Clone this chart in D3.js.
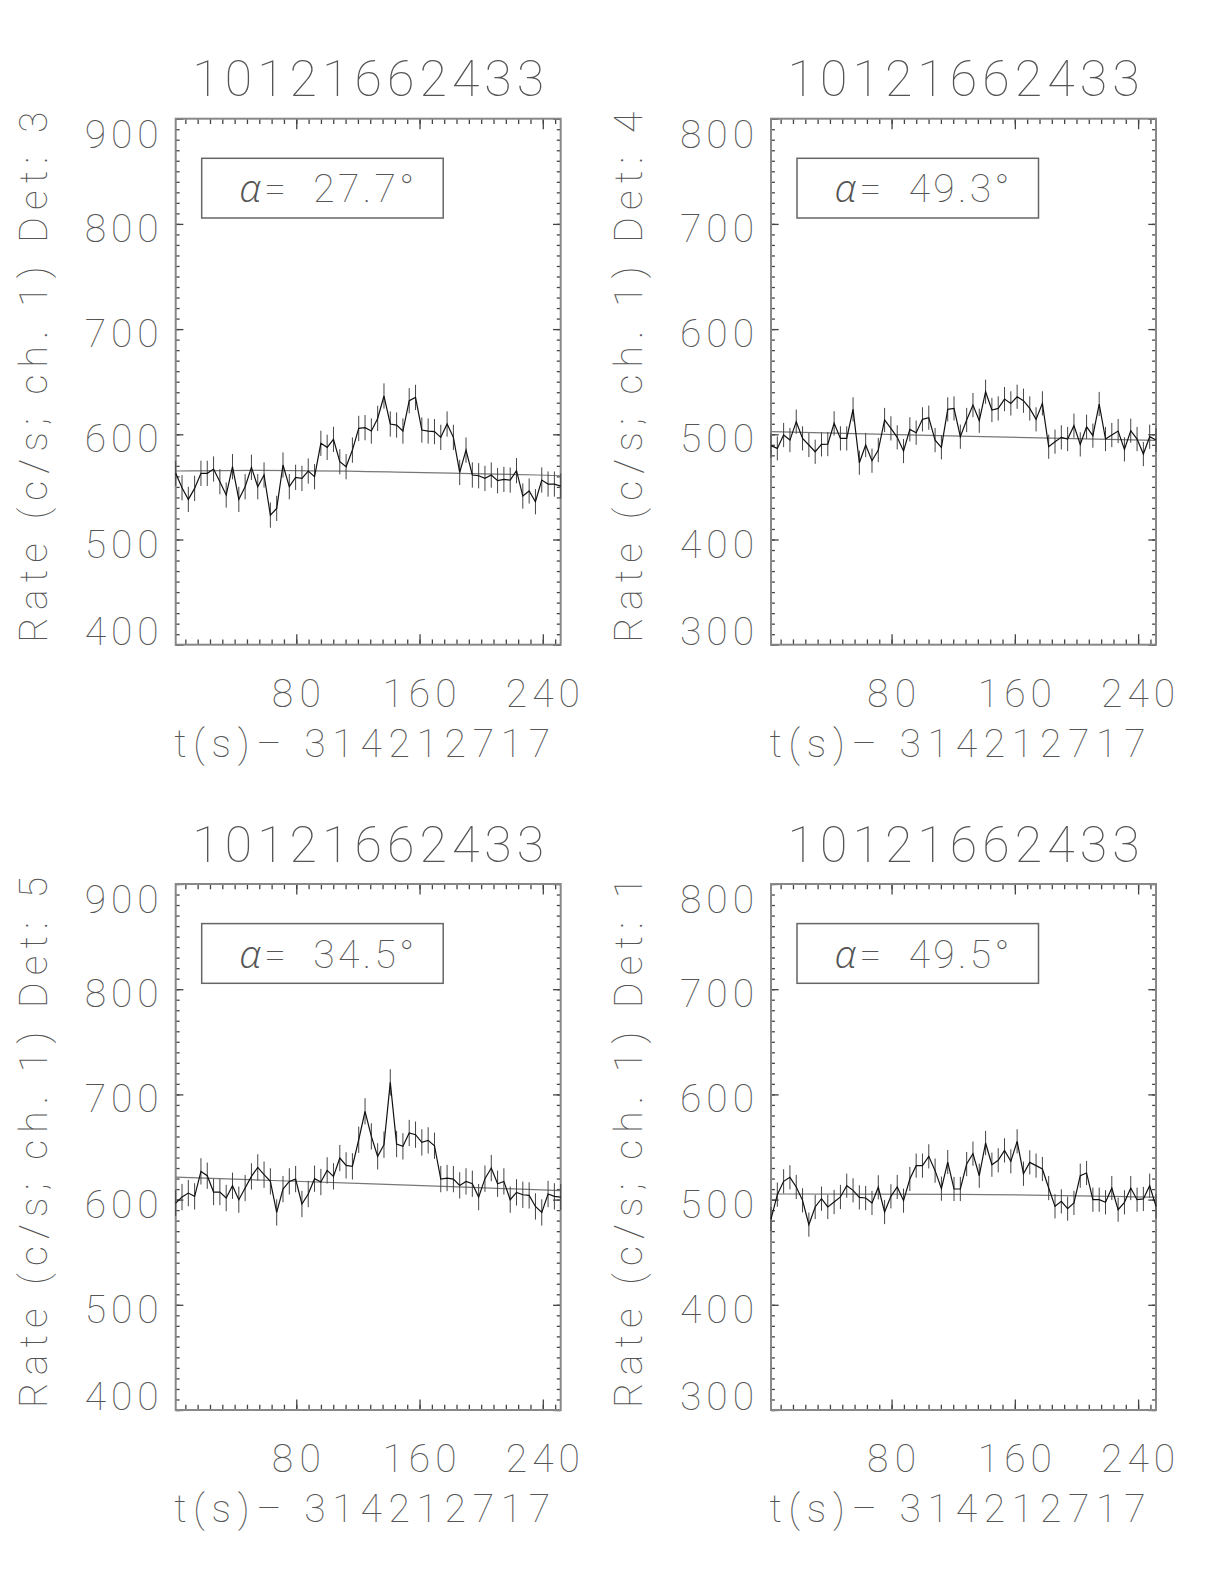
<!DOCTYPE html>
<html><head><meta charset="utf-8">
<script src="https://cdn.jsdelivr.net/npm/d3@7"></script>
<style>body{margin:0;background:#fff}</style>
</head><body><div id="chart"></div>
<script>
// ---- data ----
const times = [1.75,5.85,9.94,14.04,18.13,22.23,26.33,30.42,34.52,38.61,42.71,46.81,50.90,55.00,59.09,63.19,67.29,71.38,75.48,79.57,83.67,87.77,91.86,95.96,100.05,104.15,108.25,112.34,116.44,120.53,124.63,128.73,132.82,136.92,141.01,145.11,149.21,153.30,157.40,161.49,165.59,169.69,173.78,177.88,181.97,186.07,190.17,194.26,198.36,202.45,206.55,210.65,214.74,218.84,222.93,227.03,231.13,235.22,239.32,243.41,247.51,251.61];
const rateDet3 = [562.9,549.2,538.1,548.6,562.9,562.9,567.0,554.9,542.3,569.2,538.1,550.2,568.6,550.2,561.3,523.2,529.6,570.8,550.2,559.1,558.1,565.1,559.7,591.4,587.6,595.2,573.9,569.2,585.0,605.6,606.3,603.1,615.1,636.4,609.8,608.8,603.1,631.9,635.1,604.1,603.1,602.5,597.1,609.8,597.1,563.8,585.0,561.3,560.6,558.1,561.3,555.9,557.1,556.5,565.4,541.3,546.1,535.9,556.5,552.7,552.7,550.8];
const rateDet4 = [489.2,486.6,499.3,494.5,512.0,496.1,489.8,483.4,490.4,490.7,510.4,496.1,496.1,523.7,473.0,489.8,474.9,485.0,513.6,505.6,497.1,484.1,504.7,501.5,514.2,515.8,494.5,487.6,523.7,524.6,497.7,513.6,527.8,512.9,540.5,523.1,524.6,533.5,529.4,535.7,531.9,524.6,514.2,529.4,488.2,493.0,497.1,495.5,508.2,490.4,507.2,498.7,528.8,495.5,499.3,503.1,485.7,503.4,495.5,481.2,497.7,494.5];
const rateDet5 = [596.7,602.4,606.2,603.1,626.8,622.7,607.2,607.2,601.5,613.2,599.9,611.0,622.1,630.6,623.7,617.3,587.8,610.0,617.3,619.5,595.8,605.3,619.9,616.7,627.8,622.1,639.5,632.5,631.6,656.9,683.9,660.1,641.1,652.2,711.4,652.8,650.6,663.3,661.7,654.4,656.3,651.2,619.5,620.5,619.5,613.5,617.3,615.1,602.4,619.9,630.0,615.1,617.3,599.9,606.9,604.6,604.0,593.5,587.8,605.3,603.1,602.4];
const rateDet1 = [481.5,504.7,517.4,521.2,512.0,499.3,476.2,493.0,500.9,493.0,497.7,502.5,513.2,508.8,502.1,501.5,496.8,511.7,488.2,503.1,512.0,499.0,519.6,532.3,532.3,541.1,527.5,510.4,535.7,510.1,510.1,533.8,543.7,522.7,553.8,533.2,537.3,546.8,536.4,555.4,524.6,535.4,532.3,529.1,511.0,493.6,498.3,491.4,496.8,522.7,525.3,499.9,499.9,497.4,511.0,490.4,497.4,511.0,499.9,500.6,513.2,493.6];
const errHalf = [12.0, 11.5, 12.5, 11.5];
const fitTimesDet3 = [1.75, 54.2, 145.3, 186.5, 236.4, 251.61];
const fitDet3 = [565.1, 565.7, 564.1, 562.9, 561.3, 560.6];
const fitTimesDet4 = [1.75, 124.7, 251.61];
const fitDet4 = [502.5, 498.3, 494.3];
const fitTimesDet5 = [1.75, 124.7, 251.61];
const fitDet5 = [621.4, 615.1, 608.6];
const fitTimesDet1 = [1.75, 124.7, 251.61];
const fitDet1 = [505.3, 505.0, 502.4];
const titles = ["10121662433","10121662433","10121662433","10121662433"];
const detectors = ["3","4","5","1"];
const alphas = ["27.7","49.3","34.5","49.5"];
const yTicksA = [400,500,600,700,800,900];
const yTicksB = [300,400,500,600,700,800];
const xTickLabels = [80,160,240];
const xLabel = "t(s)\u2013 314212717";

// ---- layout ----
const W=1224,H=1584, PW=385, PH=526;
const FONT = "Roboto, 'DejaVu Sans', sans-serif";
const TXT = "#555";
const svg = d3.select("#chart").append("svg").attr("width",W).attr("height",H);
svg.append("rect").attr("width",W).attr("height",H).attr("fill","#fff");

const panels = [
  {left:175.7, top:118.7, rates:rateDet3, fitT:fitTimesDet3, fitV:fitDet3, yTicks:yTicksA},
  {left:771.0, top:118.7, rates:rateDet4, fitT:fitTimesDet4, fitV:fitDet4, yTicks:yTicksB},
  {left:175.7, top:884.0, rates:rateDet5, fitT:fitTimesDet5, fitV:fitDet5, yTicks:yTicksA},
  {left:771.0, top:884.0, rates:rateDet1, fitT:fitTimesDet1, fitV:fitDet1, yTicks:yTicksB}
];

panels.forEach((p, k) => {
  const g = svg.append("g");
  const x = d3.scaleLinear().domain([times[0], times[times.length-1]]).range([p.left, p.left+PW]);
  const yDom = d3.extent(p.yTicks);
  const y = d3.scaleLinear().domain(yDom).range([p.top+PH, p.top]);
  const xMinor = d3.range(8, 252, 8);
  const yMinor = d3.range(yDom[0], yDom[1]+1, 10);

  function ax(gen, tr) {
    const a = g.append("g").attr("transform", tr).call(gen);
    a.select(".domain").remove();
    a.selectAll("line").attr("stroke","#444").attr("stroke-width",1.3);
    a.selectAll("text").remove();
  }
  ax(d3.axisBottom(x).tickValues(xMinor).tickSize(-5.3).tickFormat(""), `translate(0,${p.top+PH})`);
  ax(d3.axisBottom(x).tickValues(xTickLabels).tickSize(-10.5).tickFormat(""), `translate(0,${p.top+PH})`);
  ax(d3.axisTop(x).tickValues(xMinor).tickSize(-5.3).tickFormat(""), `translate(0,${p.top})`);
  ax(d3.axisTop(x).tickValues(xTickLabels).tickSize(-10.5).tickFormat(""), `translate(0,${p.top})`);
  ax(d3.axisLeft(y).tickValues(yMinor).tickSize(-3.9).tickFormat(""), `translate(${p.left},0)`);
  ax(d3.axisLeft(y).tickValues(p.yTicks).tickSize(-7.7).tickFormat(""), `translate(${p.left},0)`);
  ax(d3.axisRight(y).tickValues(yMinor).tickSize(-3.9).tickFormat(""), `translate(${p.left+PW},0)`);
  ax(d3.axisRight(y).tickValues(p.yTicks).tickSize(-7.7).tickFormat(""), `translate(${p.left+PW},0)`);

  g.append("rect").attr("x",p.left).attr("y",p.top).attr("width",PW).attr("height",PH)
    .attr("fill","none").attr("stroke","#888").attr("stroke-width",2);

  // fit
  g.append("path").datum(p.fitV)
    .attr("d", d3.line().x((d,i)=>x(p.fitT[i])).y(d=>y(d)).curve(d3.curveMonotoneX))
    .attr("fill","none").attr("stroke","#777").attr("stroke-width",1.2);
  // error bars
  g.append("g").selectAll("line").data(p.rates).join("line")
    .attr("x1",(d,i)=>x(times[i])).attr("x2",(d,i)=>x(times[i]))
    .attr("y1",d=>y(d-errHalf[k])).attr("y2",d=>y(d+errHalf[k]))
    .attr("stroke","#444").attr("stroke-width",1);
  // data line
  g.append("path").datum(p.rates)
    .attr("d", d3.line().x((d,i)=>x(times[i])).y(d=>y(d)))
    .attr("fill","none").attr("stroke","#111").attr("stroke-width",1.2);

  const T = (sel) => sel.attr("font-family",FONT).attr("font-weight",100).attr("fill",TXT);

  // title
  g.append("text").text(titles[k]).call(T)
    .attr("x",p.left+PW/2).attr("y",p.top-22.5).attr("text-anchor","middle")
    .attr("font-size",50).attr("textLength",352).attr("lengthAdjust","spacing");

  // y tick labels
  p.yTicks.forEach(v => {
    let by = y(v)+18;
    if (v===yDom[1]) by = p.top+28.8;
    if (v===yDom[0]) by = p.top+PH;
    g.append("text").text(v).call(T)
      .attr("x",p.left-17).attr("y",by).attr("text-anchor","end")
      .attr("font-size",39).attr("textLength",String(v).length*25-1).attr("lengthAdjust","spacing");
  });
  // x tick labels
  xTickLabels.forEach(v => {
    g.append("text").text(v).call(T)
      .attr("x",x(v)).attr("y",p.top+PH+62).attr("text-anchor","middle")
      .attr("font-size",39).attr("textLength",String(v).length*25-1).attr("lengthAdjust","spacing");
  });
  // x label
  g.append("text").text(xLabel).call(T)
    .attr("x",p.left+PW/2-6).attr("y",p.top+PH+112).attr("text-anchor","middle")
    .attr("font-size",39).attr("textLength",376).attr("lengthAdjust","spacing");
  // y label
  g.append("text").text(`Rate (c/s; ch. 1) Det: ${detectors[k]}`).call(T)
    .attr("transform",`translate(${p.left-129},${p.top+PH/2-4.5}) rotate(-90)`)
    .attr("text-anchor","middle")
    .attr("font-size",39).attr("textLength",531).attr("lengthAdjust","spacing");

  // alpha box
  g.append("rect").attr("x",p.left+26).attr("y",p.top+39.6).attr("width",241.5).attr("height",59.7)
    .attr("fill","none").attr("stroke","#666").attr("stroke-width",1.5);
  const at = g.append("text").call(T).attr("x",p.left+63.5).attr("y",p.top+83.5)
    .attr("font-size",39).attr("textLength",175).attr("lengthAdjust","spacing");
  at.append("tspan").attr("font-family","'Open Sans', 'Noto Sans', sans-serif").attr("font-weight",300)
    .attr("font-style","italic").text("\u03b1");
  at.append("tspan").text(`= \u2009${alphas[k]}\u00b0`);
});
</script></body></html>
